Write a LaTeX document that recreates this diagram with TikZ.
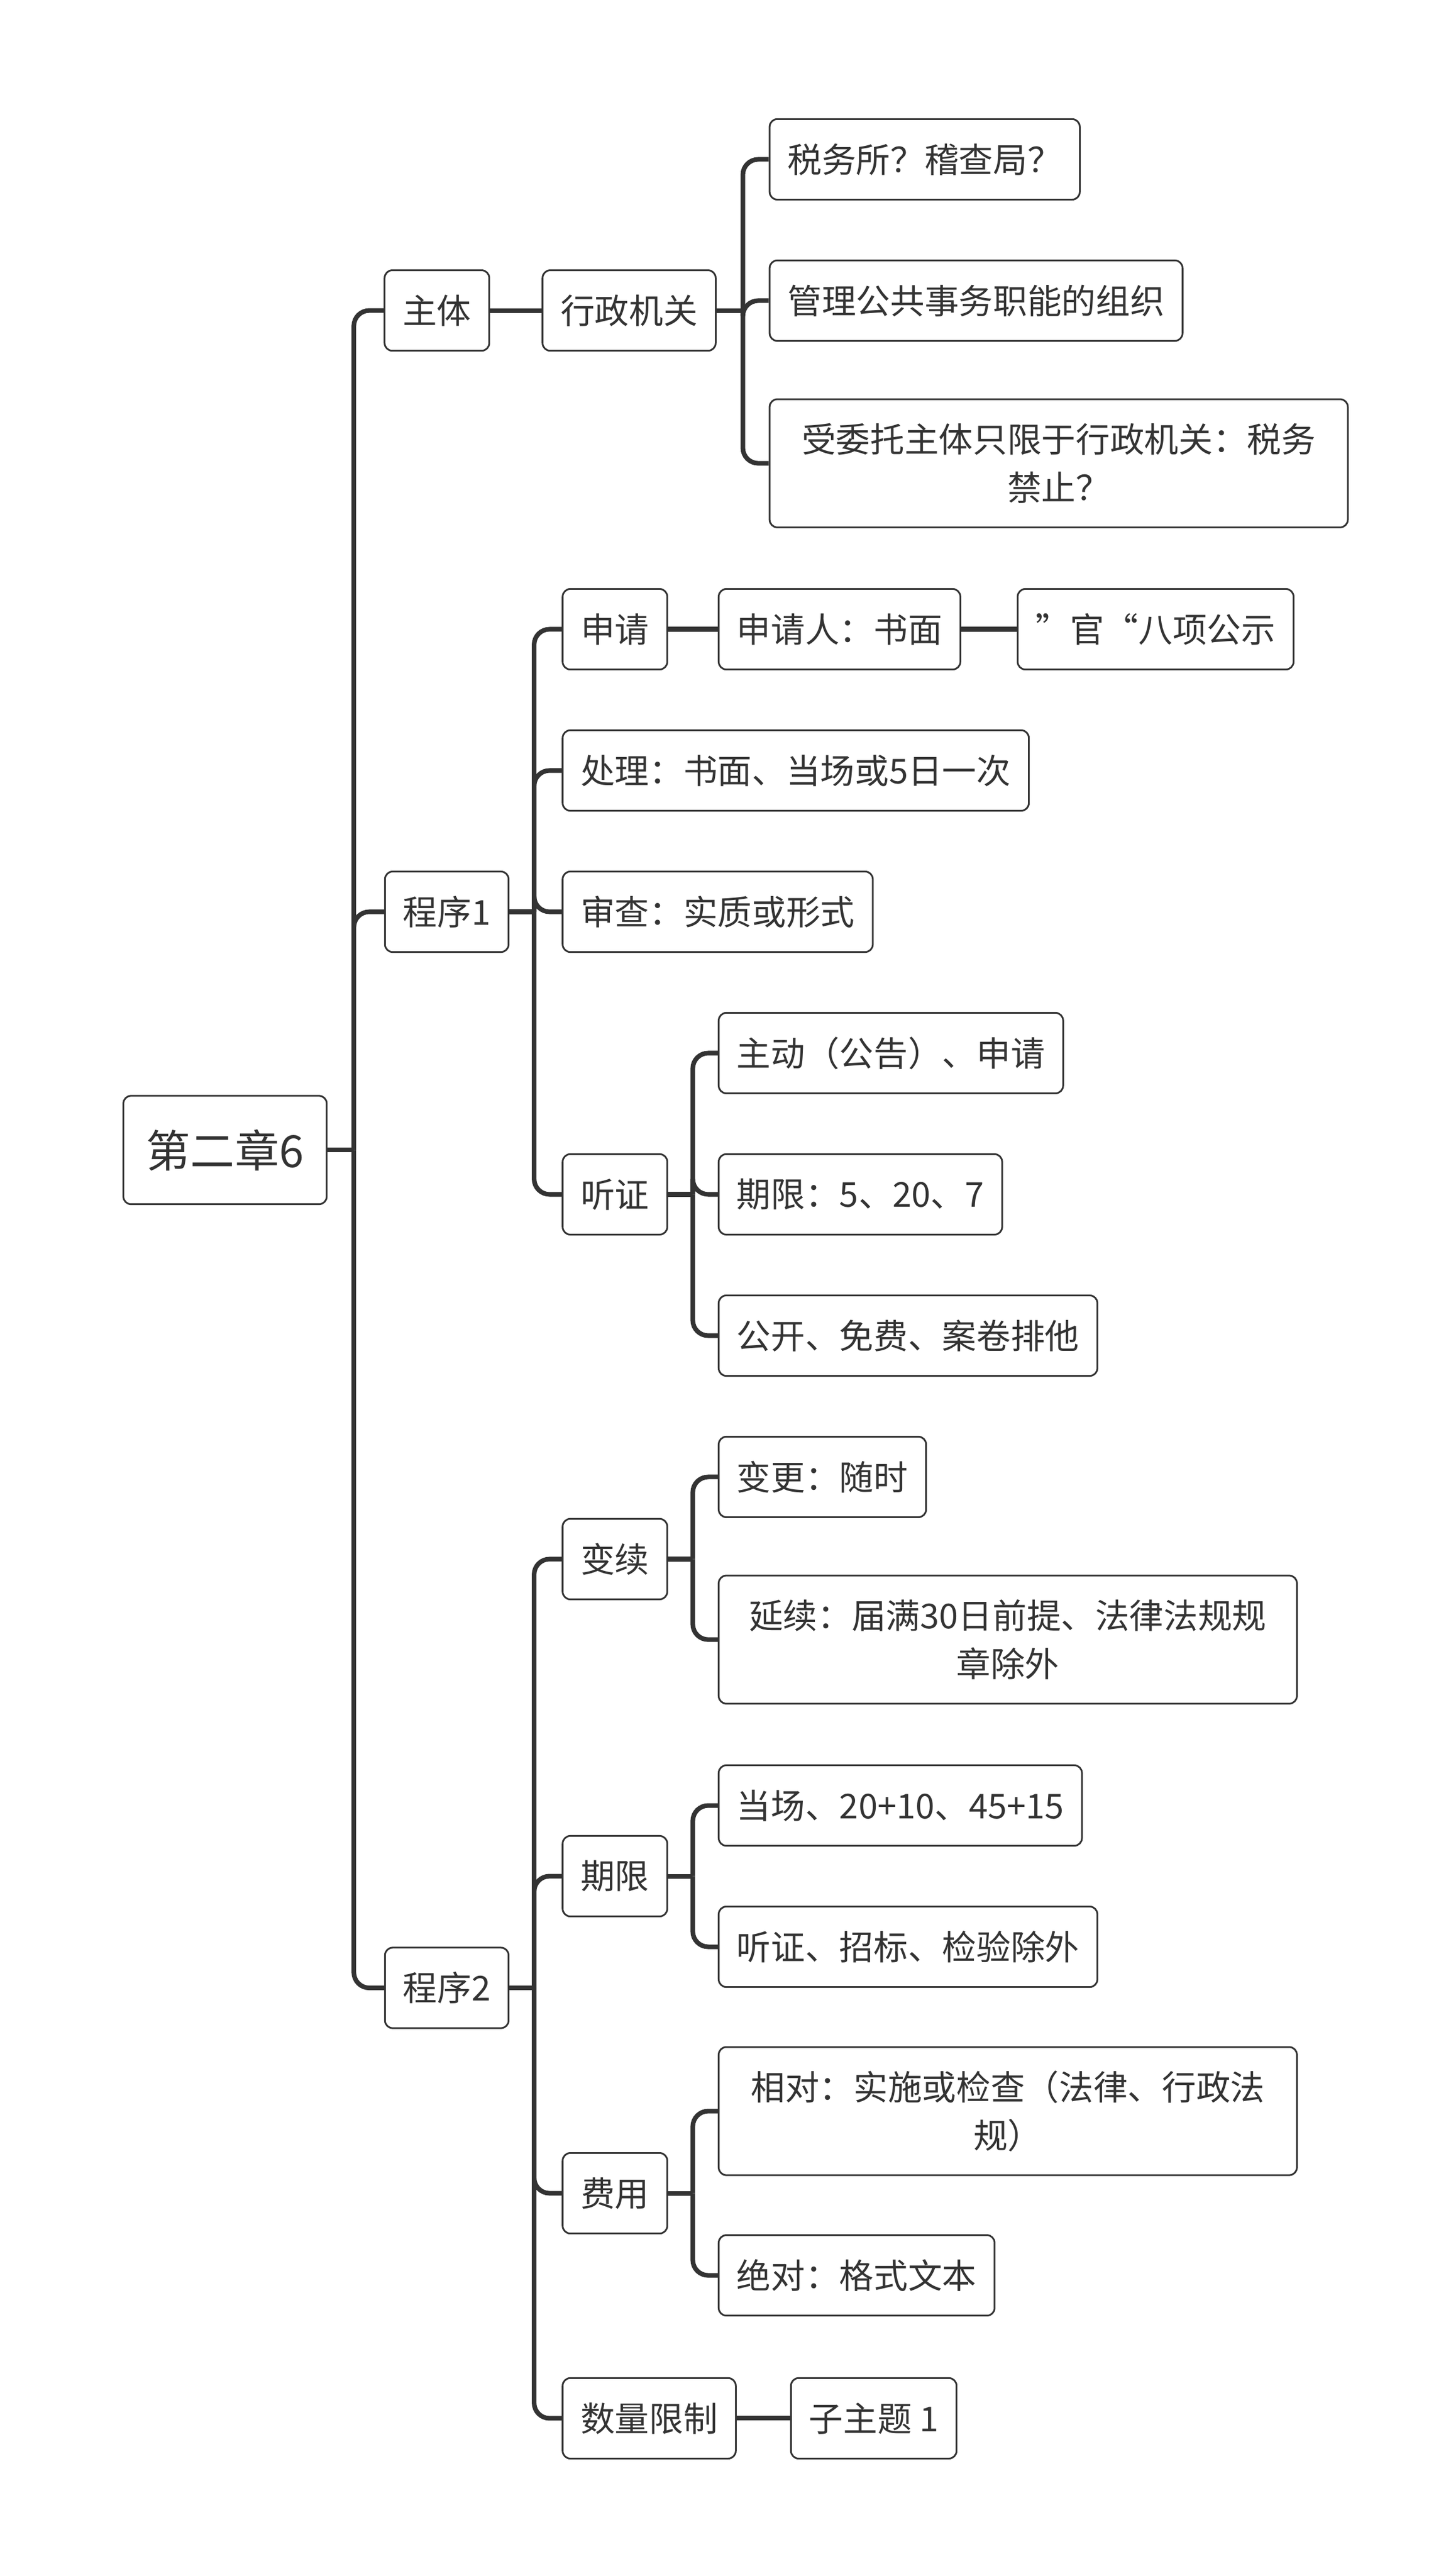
\documentclass[tikz,border=0pt]{standalone}
\usepackage{fontspec}
\setmainfont{Noto Sans CJK SC}
\definecolor{ink}{HTML}{333333}
\begin{document}
\begin{tikzpicture}[x=0.03cm,y=-0.03cm]
\tikzstyle{topic}=[draw=ink,text=ink,line width=0.9pt,rounded corners=4pt,minimum height=1.47cm,inner xsep=0.33cm,font=\fontsize{17.8}{25}\selectfont]
\tikzstyle{wide}=[topic,align=center,text width=9.9cm,minimum height=2.34cm]
\tikzstyle{rootbox}=[topic,minimum height=1.98cm,inner xsep=0.42cm,font=\fontsize{23}{28}\selectfont]
\tikzstyle{conn}=[draw=ink,line width=2.4pt]
\tikzstyle{branch}=[conn,rounded corners=8pt]

\useasboundingbox (0,0) rectangle (880,1568);

\node[rootbox] (root) at (137,700) {第二章6};

% 主体
\node[topic] (subj) at (266,189) {主体};
\node[topic] (admin) at (383,189) {行政机关};
\node[topic,anchor=west] (tax) at (468,97) {税务所？稽查局？};
\node[topic,anchor=west] (org) at (468,183) {管理公共事务职能的组织};
\node[wide,anchor=west] (ent) at (468,282) {受委托主体只限于行政机关：税务\\禁止？};

% 程序1
\node[topic] (proc1) at (272,555) {程序1};
\node[topic,anchor=west] (apply) at (342,383) {申请};
\node[topic,anchor=west] (applicant) at (437,383) {申请人：书面};
\node[topic,anchor=west] (pub) at (619,383) {\char34 官“八项公示};
\node[topic,anchor=west] (handle) at (342,469) {处理：书面、当场或5日一次};
\node[topic,anchor=west] (review) at (342,555) {审查：实质或形式};
\node[topic,anchor=west] (hear) at (342,727) {听证};
\node[topic,anchor=west] (active) at (437,641) {主动（公告）、申请};
\node[topic,anchor=west] (limit1) at (437,727) {期限：5、20、7};
\node[topic,anchor=west] (open) at (437,813) {公开、免费、案卷排他};

% 程序2
\node[topic] (proc2) at (272,1210) {程序2};
\node[topic,anchor=west] (change) at (342,949) {变续};
\node[topic,anchor=west] (alter) at (437,899) {变更：随时};
\node[wide,anchor=west] (extend) at (437,998) {延续：届满30日前提、法律法规规\\章除外};
\node[topic,anchor=west] (term) at (342,1142) {期限};
\node[topic,anchor=west] (spot) at (437,1099) {当场、20+10、45+15};
\node[topic,anchor=west] (except) at (437,1185) {听证、招标、检验除外};
\node[topic,anchor=west] (fee) at (342,1335) {费用};
\node[wide,anchor=west] (rel) at (437,1285) {相对：实施或检查（法律、行政法\\规）};
\node[topic,anchor=west] (abs) at (437,1385) {绝对：格式文本};
\node[topic,anchor=west] (qty) at (342,1472) {数量限制};
\node[topic,anchor=west] (sub) at (481,1472) {子主题 1};

% connectors
\draw[conn] (root.east) -- ++(16,0) coordinate (rb);
\foreach \c in {subj,proc1,proc2} \draw[branch] (rb) |- (\c.west);

\draw[conn] (subj.east) -- (admin.west);
\draw[conn] (admin.east) -- ++(16,0) coordinate (ab);
\foreach \c in {tax,org,ent} \draw[branch] (ab) |- (\c.west);

\draw[conn] (proc1.east) -- ++(15,0) coordinate (p1b);
\foreach \c in {apply,handle,review,hear} \draw[branch] (p1b) |- (\c.west);
\draw[conn] (apply.east) -- (applicant.west);
\draw[conn] (applicant.east) -- (pub.west);
\draw[conn] (hear.east) -- ++(15,0) coordinate (hb);
\foreach \c in {active,limit1,open} \draw[branch] (hb) |- (\c.west);

\draw[conn] (proc2.east) -- ++(15,0) coordinate (p2b);
\foreach \c in {change,term,fee,qty} \draw[branch] (p2b) |- (\c.west);
\draw[conn] (change.east) -- ++(15,0) coordinate (cb);
\foreach \c in {alter,extend} \draw[branch] (cb) |- (\c.west);
\draw[conn] (term.east) -- ++(15,0) coordinate (tb);
\foreach \c in {spot,except} \draw[branch] (tb) |- (\c.west);
\draw[conn] (fee.east) -- ++(15,0) coordinate (fb);
\foreach \c in {rel,abs} \draw[branch] (fb) |- (\c.west);
\draw[conn] (qty.east) -- (sub.west);

\end{tikzpicture}
\end{document}
